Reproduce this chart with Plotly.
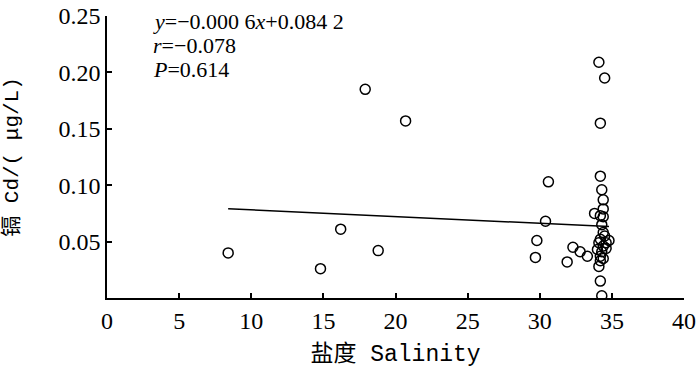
import plotly.graph_objects as go

# ---- data ----
salinity = [8.4, 14.8, 16.2, 17.9, 18.8, 20.7,
            29.7, 29.8, 30.4, 30.6, 31.9, 32.3, 32.8, 33.3, 33.8,
            34.1, 34.5, 34.2, 34.2, 34.3, 34.4, 34.4, 34.2, 34.4, 34.3,
            34.4, 34.2, 34.8, 34.1, 34.4, 34.3, 34.2, 34.2, 34.1, 34.2, 34.3,
            34.5, 34.6, 34.4, 34.0, 34.6]
cd = [0.040, 0.026, 0.061, 0.185, 0.042, 0.157,
      0.036, 0.051, 0.068, 0.103, 0.032, 0.045, 0.041, 0.037, 0.075,
      0.209, 0.195, 0.155, 0.108, 0.096, 0.087, 0.079, 0.073, 0.072, 0.065,
      0.058, 0.052, 0.051, 0.049, 0.046, 0.041, 0.037, 0.033, 0.028, 0.015, 0.002,
      0.055, 0.044, 0.035, 0.043, 0.049]

slope = -0.0006
intercept = 0.0842

x_ticks = [0, 5, 10, 15, 20, 25, 30, 35, 40]
y_ticks = [0.05, 0.10, 0.15, 0.20, 0.25]
y_ticktext = ["0.05", "0.10", "0.15", "0.20", "0.25"]

stats_lines = ["<i>y</i>=−0.000 6<i>x</i>+0.084 2", "<i>r</i>=−0.078", "<i>P</i>=0.614"]

x_title = "盐度 Salinity"
y_title = "镉 Cd/( μg/L)"

# ---- figure ----
fit_x = [min(salinity), max(salinity)]
fit_y = [intercept + slope * v for v in fit_x]

serif = "Liberation Serif, Noto Sans CJK SC"
mono = "Liberation Mono, Noto Sans CJK SC"

fig = go.Figure()
fig.add_trace(go.Scatter(x=fit_x, y=fit_y, mode="lines",
                         line=dict(color="black", width=1.5), showlegend=False,
                         hoverinfo="skip"))
fig.add_trace(go.Scatter(x=salinity, y=cd, mode="markers",
                         marker=dict(symbol="circle-open", size=10, color="black",
                                     line=dict(width=1.5, color="black")),
                         showlegend=False))

line_y = [0.979, 0.894, 0.812]
for txt, yy in zip(stats_lines, line_y):
    fig.add_annotation(xref="paper", yref="paper", x=0.077, y=yy, xanchor="left",
                       yanchor="middle", align="left", showarrow=False, text=txt,
                       font=dict(family=serif, size=22, color="black"))

fig.update_xaxes(range=[0, 40], tickvals=x_ticks, ticks="inside", ticklen=5,
                 tickwidth=1.5, tickcolor="black", showline=True, linecolor="black",
                 linewidth=1.5, showgrid=False, zeroline=False, mirror=False,
                 ticklabelstandoff=0, automargin=False,
                 tickfont=dict(family=serif, size=24, color="black"),
                 title=dict(text=x_title, standoff=12,
                            font=dict(family=mono, size=23, color="black")))
fig.update_yaxes(range=[0, 0.25], tickvals=y_ticks, ticktext=y_ticktext,
                 ticks="inside", ticklen=5, tickwidth=1.5, tickcolor="black",
                 showline=True, linecolor="black", linewidth=1.5, showgrid=False,
                 zeroline=False, mirror=False, automargin=False,
                 tickfont=dict(family=serif, size=24, color="black"),
                 title=dict(text=y_title, standoff=40,
                            font=dict(family=mono, size=21, color="black")))

fig.update_layout(width=700, height=372, plot_bgcolor="white", paper_bgcolor="white",
                  margin=dict(l=107, r=16, t=16, b=74))

fig.write_html("out.html", config={"displayModeBar": False},
               post_script="document.body.style.margin='0';document.body.style.overflow='hidden';")
